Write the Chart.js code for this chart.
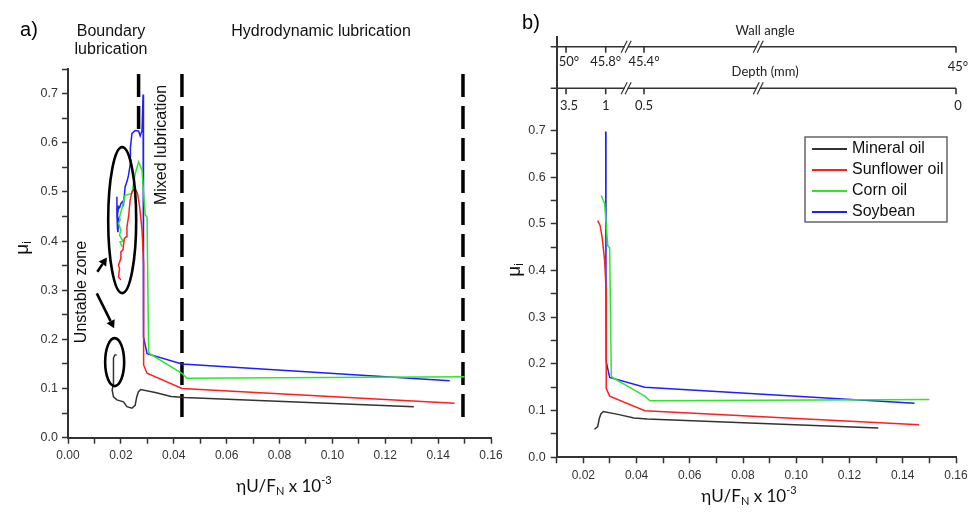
<!DOCTYPE html>
<html><head><meta charset="utf-8">
<script src="https://cdn.jsdelivr.net/npm/chart.js@4.4.0/dist/chart.umd.min.js"></script>
<style>
html,body{margin:0;padding:0;background:#fff;width:975px;height:512px;overflow:hidden;}
#ca{position:absolute;left:0;top:0;}
#cb{position:absolute;left:500px;top:0;}
</style></head><body>
<canvas id="ca" width="520" height="512"></canvas>
<canvas id="cb" width="475" height="512"></canvas>
<script>
// ---------------- data ----------------
const seriesNames = ['Mineral oil', 'Sunflower oil', 'Corn oil', 'Soybean'];
const seriesColors = ['#333333', '#ff1e1e', '#2ee62e', '#1e1eff'];

const mineralX = [0.0184, 0.0177, 0.0172, 0.0172, 0.0172, 0.0167, 0.0172, 0.0185, 0.0210, 0.0223, 0.0242, 0.0254, 0.0260, 0.0266, 0.0275, 0.0330, 0.0390, 0.0440, 0.1308];
const mineralY = [0.168, 0.168, 0.162, 0.140, 0.110, 0.097, 0.083, 0.077, 0.073, 0.063, 0.060, 0.066, 0.083, 0.093, 0.098, 0.092, 0.084, 0.082, 0.063];

const sunflowerX = [0.0200, 0.0191, 0.0195, 0.0191, 0.0200, 0.0200, 0.0208, 0.0213, 0.0220, 0.0223, 0.0229, 0.0235, 0.0242, 0.0254, 0.0263, 0.0271, 0.0280, 0.0286, 0.0286, 0.0299, 0.0431, 0.1462];
const sunflowerY = [0.321, 0.327, 0.344, 0.351, 0.365, 0.378, 0.382, 0.405, 0.409, 0.429, 0.449, 0.483, 0.500, 0.507, 0.497, 0.470, 0.422, 0.355, 0.148, 0.131, 0.100, 0.070];

const cornX = [0.0205, 0.0197, 0.0208, 0.0195, 0.0200, 0.0191, 0.0197, 0.0195, 0.0200, 0.0204, 0.0216, 0.0242, 0.0254, 0.0267, 0.0280, 0.0286, 0.0292, 0.0299, 0.0305, 0.0309, 0.0431, 0.0450, 0.1500];
const cornY = [0.388, 0.398, 0.400, 0.412, 0.422, 0.436, 0.443, 0.449, 0.459, 0.466, 0.493, 0.497, 0.537, 0.561, 0.544, 0.497, 0.453, 0.449, 0.175, 0.171, 0.131, 0.121, 0.124];

const soybeanX = [0.0185, 0.0185, 0.0187, 0.0189, 0.0191, 0.0187, 0.0191, 0.0195, 0.0200, 0.0206, 0.0210, 0.0216, 0.0223, 0.0229, 0.0238, 0.0236, 0.0242, 0.0254, 0.0267, 0.0273, 0.0280, 0.0284, 0.0285, 0.0286, 0.0299, 0.0431, 0.1444];
const soybeanY = [0.490, 0.456, 0.425, 0.418, 0.444, 0.452, 0.470, 0.468, 0.476, 0.480, 0.475, 0.510, 0.521, 0.534, 0.565, 0.590, 0.619, 0.625, 0.624, 0.614, 0.625, 0.698, 0.400, 0.205, 0.171, 0.150, 0.116];

// panel b shows each series from this point index onward (unstable zone removed)
const panelBStart = [10, 13, 13, 21];

// lubrication regime boundaries (panel a, dashed)
const regimeLineX = [0.0267, 0.0431, 0.1494];
const regimeLineTop = [0.740, 0.740, 0.740];
const regimeLineBottom = [0.619, 0.0325, 0.0325];

// ticks
const xMajorA = [0.00, 0.02, 0.04, 0.06, 0.08, 0.10, 0.12, 0.14, 0.16];
const xLabelsA = ['0.00', '0.02', '0.04', '0.06', '0.08', '0.10', '0.12', '0.14', '0.16'];
const xMinorA = [0.01, 0.03, 0.05, 0.07, 0.09, 0.11, 0.13, 0.15];
const yMajorA = [0.0, 0.1, 0.2, 0.3, 0.4, 0.5, 0.6, 0.7];
const yLabelsA = ['0.0', '0.1', '0.2', '0.3', '0.4', '0.5', '0.6', '0.7'];
const yMinorA = [0.05, 0.15, 0.25, 0.35, 0.45, 0.55, 0.65, 0.75];

const xMajorB = [0.02, 0.04, 0.06, 0.08, 0.10, 0.12, 0.14, 0.16];
const xLabelsB = ['0.02', '0.04', '0.06', '0.08', '0.10', '0.12', '0.14', '0.16'];
const xMinorB = [0.01, 0.03, 0.05, 0.07, 0.09, 0.11, 0.13, 0.15];
const yMajorB = [0.0, 0.1, 0.2, 0.3, 0.4, 0.5, 0.6, 0.7];
const yLabelsB = ['0.0', '0.1', '0.2', '0.3', '0.4', '0.5', '0.6', '0.7'];
const yMinorB = [0.05, 0.15, 0.25, 0.35, 0.45, 0.55, 0.65];

// secondary (top) axes of panel b, placed on the x scale
const topAxisTickX = [0.0135, 0.0284, 0.0428, 0.1600];
const wallAngleLabels = ['50°', '45.8°', '45.4°', '45°'];
const depthLabels = ['3.5', '1', '0.5', '0'];
const topAxisBreakX = [0.0361, 0.0857];

// annotations of panel a (data coordinates)
const zoneEllipses = [{x: 0.0205, y: 0.4425, rx: 14, ry: 73}, {x: 0.01765, y: 0.1538, rx: 9.5, ry: 24}];
const zoneArrows = [{x1: 0.0111, y1: 0.3374, x2: 0.0147, y2: 0.3667}, {x1: 0.0109, y1: 0.2935, x2: 0.01746, y2: 0.2224}];

// ---------------- helpers ----------------
const FONT = "'Liberation Sans', Arial, sans-serif";
const CAL = "Lato, 'Liberation Sans', sans-serif";
Chart.defaults.font.family = FONT;

const allX = [mineralX, sunflowerX, cornX, soybeanX];
const allY = [mineralY, sunflowerY, cornY, soybeanY];
function pts(i, start) {
  const out = [];
  for (let k = start; k < allX[i].length; k++) out.push({x: allX[i][k], y: allY[i][k]});
  return out;
}
function labelFor(majors, labels) {
  return (v) => {
    const i = majors.findIndex(m => Math.abs(m - v) < 1e-9);
    return i >= 0 ? labels[i] : '';
  };
}
function tickSetter(majors, minors) {
  return (axis) => {
    axis.ticks = majors.concat(minors).sort((a, b) => a - b).map(v => ({value: v}));
  };
}
function axisStyle() {
  return {
    grid: {display: true, drawOnChartArea: false, drawTicks: true, tickLength: 6, tickWidth: 1.5, tickColor: '#333'},
    border: {display: true, color: '#333', width: 2},
  };
}
function seriesDatasets(startFn) {
  return seriesNames.map((n, i) => ({
    label: n, data: pts(i, startFn(i)), borderColor: seriesColors[i], backgroundColor: seriesColors[i],
    showLine: true, pointRadius: 0, borderWidth: 1.5, tension: 0, fill: false
  }));
}
function txt(ctx, s, x, y, font, color, align) {
  ctx.font = font; ctx.fillStyle = color || '#111';
  ctx.textAlign = align || 'center'; ctx.textBaseline = 'middle';
  ctx.fillText(s, x, y);
}
function rotTxt(ctx, s, x, y, font, color) {
  ctx.save(); ctx.translate(x, y); ctx.rotate(-Math.PI / 2);
  txt(ctx, s, 0, 0, font, color); ctx.restore();
}
function richTxt(ctx, segs, cx, cy, rotate) {
  ctx.save(); ctx.translate(cx, cy); if (rotate) ctx.rotate(-Math.PI / 2);
  ctx.textBaseline = 'middle'; ctx.textAlign = 'left'; ctx.fillStyle = '#111';
  let w = 0;
  segs.forEach(s => { ctx.font = s.f; s.w = ctx.measureText(s.t).width; w += s.w; });
  let x = -w / 2;
  segs.forEach(s => { ctx.font = s.f; ctx.fillText(s.t, x, s.dy); x += s.w; });
  ctx.restore();
}
function xTitle(ctx, cx, cy) {
  richTxt(ctx, [
    {t: 'ηU/F', f: '17px ' + CAL, dy: 0},
    {t: 'N', f: '11px ' + CAL, dy: 4},
    {t: ' x 10', f: '17px ' + CAL, dy: 0},
    {t: '-3', f: '11px ' + CAL, dy: -7}
  ], cx, cy, false);
}
function yTitle(ctx, cx, cy) {
  richTxt(ctx, [
    {t: 'μ', f: '19px ' + FONT, dy: 0},
    {t: 'i', f: '12px ' + FONT, dy: 5}
  ], cx, cy, true);
}

// ---------------- panel a ----------------
const pluginA = {
  id: 'annA',
  afterDatasetsDraw(chart) {
    const {ctx, scales: {x, y}} = chart;
    ctx.save();
    ctx.strokeStyle = '#000'; ctx.fillStyle = '#000'; ctx.lineWidth = 2.6;
    zoneEllipses.forEach(e => {
      ctx.beginPath();
      ctx.ellipse(x.getPixelForValue(e.x), y.getPixelForValue(e.y), e.rx, e.ry, 0, 0, Math.PI * 2);
      ctx.stroke();
    });
    zoneArrows.forEach(a => {
      const x1 = x.getPixelForValue(a.x1), y1 = y.getPixelForValue(a.y1);
      const x2 = x.getPixelForValue(a.x2), y2 = y.getPixelForValue(a.y2);
      const ang = Math.atan2(y2 - y1, x2 - x1), hl = 8, hw = 4.5;
      const bx = x2 - hl * Math.cos(ang), by = y2 - hl * Math.sin(ang);
      ctx.lineWidth = 2.6;
      ctx.beginPath(); ctx.moveTo(x1, y1); ctx.lineTo(bx, by); ctx.stroke();
      ctx.beginPath(); ctx.moveTo(x2, y2);
      ctx.lineTo(bx + hw * Math.sin(ang), by - hw * Math.cos(ang));
      ctx.lineTo(bx - hw * Math.sin(ang), by + hw * Math.cos(ang));
      ctx.closePath(); ctx.fill();
    });
    ctx.restore();
  },
  afterDraw(chart) {
    const ctx = chart.ctx;
    ctx.save();
    txt(ctx, 'a)', 29, 30, '20px ' + FONT, '#000');
    txt(ctx, 'Boundary', 111, 32, '16px ' + FONT);
    txt(ctx, 'lubrication', 111, 50, '16px ' + FONT);
    txt(ctx, 'Hydrodynamic lubrication', 321, 32, '16px ' + FONT);
    rotTxt(ctx, 'Mixed lubrication', 162, 145, '16px ' + FONT);
    rotTxt(ctx, 'Unstable zone', 82, 292, '16px ' + FONT);
    yTitle(ctx, 23, 248);
    xTitle(ctx, 284, 487);
    ctx.restore();
  }
};

const dsA = seriesDatasets(() => 0);
regimeLineX.forEach((lx, i) => {
  dsA.push({
    label: '', data: [{x: lx, y: regimeLineTop[i]}, {x: lx, y: regimeLineBottom[i]}],
    borderColor: '#000', showLine: true, pointRadius: 0, borderWidth: 3.5, borderDash: [23, 9], fill: false
  });
});

new Chart(document.getElementById('ca'), {
  type: 'scatter',
  data: {datasets: dsA},
  options: {
    responsive: false, animation: false, events: [],
    layout: {padding: {top: 69, right: 29, left: 0, bottom: 0}},
    plugins: {legend: {display: false}, tooltip: {enabled: false}},
    scales: {
      x: Object.assign({
        type: 'linear', min: 0, max: 0.16,
        afterBuildTicks: tickSetter(xMajorA, xMinorA),
        afterFit: s => { s.height = 74.3; },
        ticks: {autoSkip: false, maxRotation: 0, minRotation: 0, padding: 5, color: '#333', font: {size: 12}, callback: labelFor(xMajorA, xLabelsA)}
      }, axisStyle()),
      y: Object.assign({
        type: 'linear', min: 0, max: 0.75,
        afterBuildTicks: tickSetter(yMajorA, yMinorA),
        afterFit: s => { s.width = 68; },
        ticks: {autoSkip: false, padding: 4, color: '#333', font: {size: 12.5}, callback: labelFor(yMajorA, yLabelsA)}
      }, axisStyle())
    }
  },
  plugins: [pluginA]
});

// ---------------- panel b ----------------
const OX = 500;
const pluginB = {
  id: 'annB',
  afterDraw(chart) {
    const {ctx, scales: {x}, chartArea} = chart;
    ctx.save();
    txt(ctx, 'b)', 531 - OX, 23, '20px ' + FONT, '#000');
    // top axes
    const lines = [{y: 46.7, labels: wallAngleLabels, ly: 61.5, title: 'Wall angle', ty: 30.5},
                   {y: 88.3, labels: depthLabels, ly: 106, title: 'Depth (mm)', ty: 71.5}];
    const xl = chartArea.left - 6, xr = x.getPixelForValue(0.16);
    lines.forEach(L => {
      ctx.strokeStyle = '#333'; ctx.lineWidth = 1.6;
      ctx.beginPath(); ctx.moveTo(xl, L.y); ctx.lineTo(xr, L.y); ctx.stroke();
      topAxisTickX.forEach((v, i) => {
        const px = x.getPixelForValue(v);
        ctx.beginPath(); ctx.moveTo(px, L.y); ctx.lineTo(px, L.y + 6); ctx.stroke();
        const last = i === topAxisTickX.length - 1;
        const dx = i === 0 ? 3 : (last ? 2 : 0);
        txt(ctx, L.labels[i], px + dx, L.ly + (last && L.y < 60 ? 5 : 0), '13px ' + CAL, '#222');
      });
      topAxisBreakX.forEach(v => {
        const px = x.getPixelForValue(v);
        ctx.fillStyle = '#fff'; ctx.fillRect(px - 1.5, L.y - 2, 3, 4);
        ctx.strokeStyle = '#333'; ctx.lineWidth = 1.2;
        [-2, 2].forEach(d => {
          ctx.beginPath(); ctx.moveTo(px + d - 3, L.y + 6); ctx.lineTo(px + d + 3, L.y - 6); ctx.stroke();
        });
      });
      txt(ctx, L.title, x.getPixelForValue(0.0883), L.ty, '13px ' + CAL, '#222');
    });
    // legend
    const lx = 805 - OX, ly = 137, lw = 142, lh = 85;
    ctx.fillStyle = '#fff'; ctx.fillRect(lx, ly, lw, lh);
    ctx.strokeStyle = '#666'; ctx.lineWidth = 1.5; ctx.strokeRect(lx, ly, lw, lh);
    chart.data.datasets.forEach((ds, i) => {
      const ry = 149 + i * 21;
      ctx.strokeStyle = ds.borderColor; ctx.lineWidth = 1.8;
      ctx.beginPath(); ctx.moveTo(lx + 7, ry); ctx.lineTo(lx + 42, ry); ctx.stroke();
      txt(ctx, ds.label, lx + 47, ry, '16px ' + FONT, '#111', 'left');
    });
    yTitle(ctx, 515 - OX, 270);
    xTitle(ctx, 749 - OX, 497);
    ctx.restore();
  }
};

new Chart(document.getElementById('cb'), {
  type: 'scatter',
  data: {datasets: seriesDatasets(i => panelBStart[i])},
  options: {
    responsive: false, animation: false, events: [],
    layout: {padding: {top: 37.3, right: 19, left: 0, bottom: 0}},
    plugins: {legend: {display: false}, tooltip: {enabled: false}},
    scales: {
      x: Object.assign({
        type: 'linear', min: 0.01, max: 0.16,
        afterBuildTicks: tickSetter(xMajorB, xMinorB),
        afterFit: s => { s.height = 54.7; },
        ticks: {autoSkip: false, maxRotation: 0, minRotation: 0, padding: 5, color: '#333', font: {size: 12}, callback: labelFor(xMajorB, xLabelsB)}
      }, axisStyle()),
      y: Object.assign({
        type: 'linear', min: 0, max: 0.9,
        afterBuildTicks: tickSetter(yMajorB, yMinorB),
        afterFit: s => { s.width = 56.7; },
        ticks: {autoSkip: false, padding: 5, color: '#333', font: {size: 12.5}, callback: labelFor(yMajorB, yLabelsB)}
      }, axisStyle())
    }
  },
  plugins: [pluginB]
});
</script>
</body></html>
